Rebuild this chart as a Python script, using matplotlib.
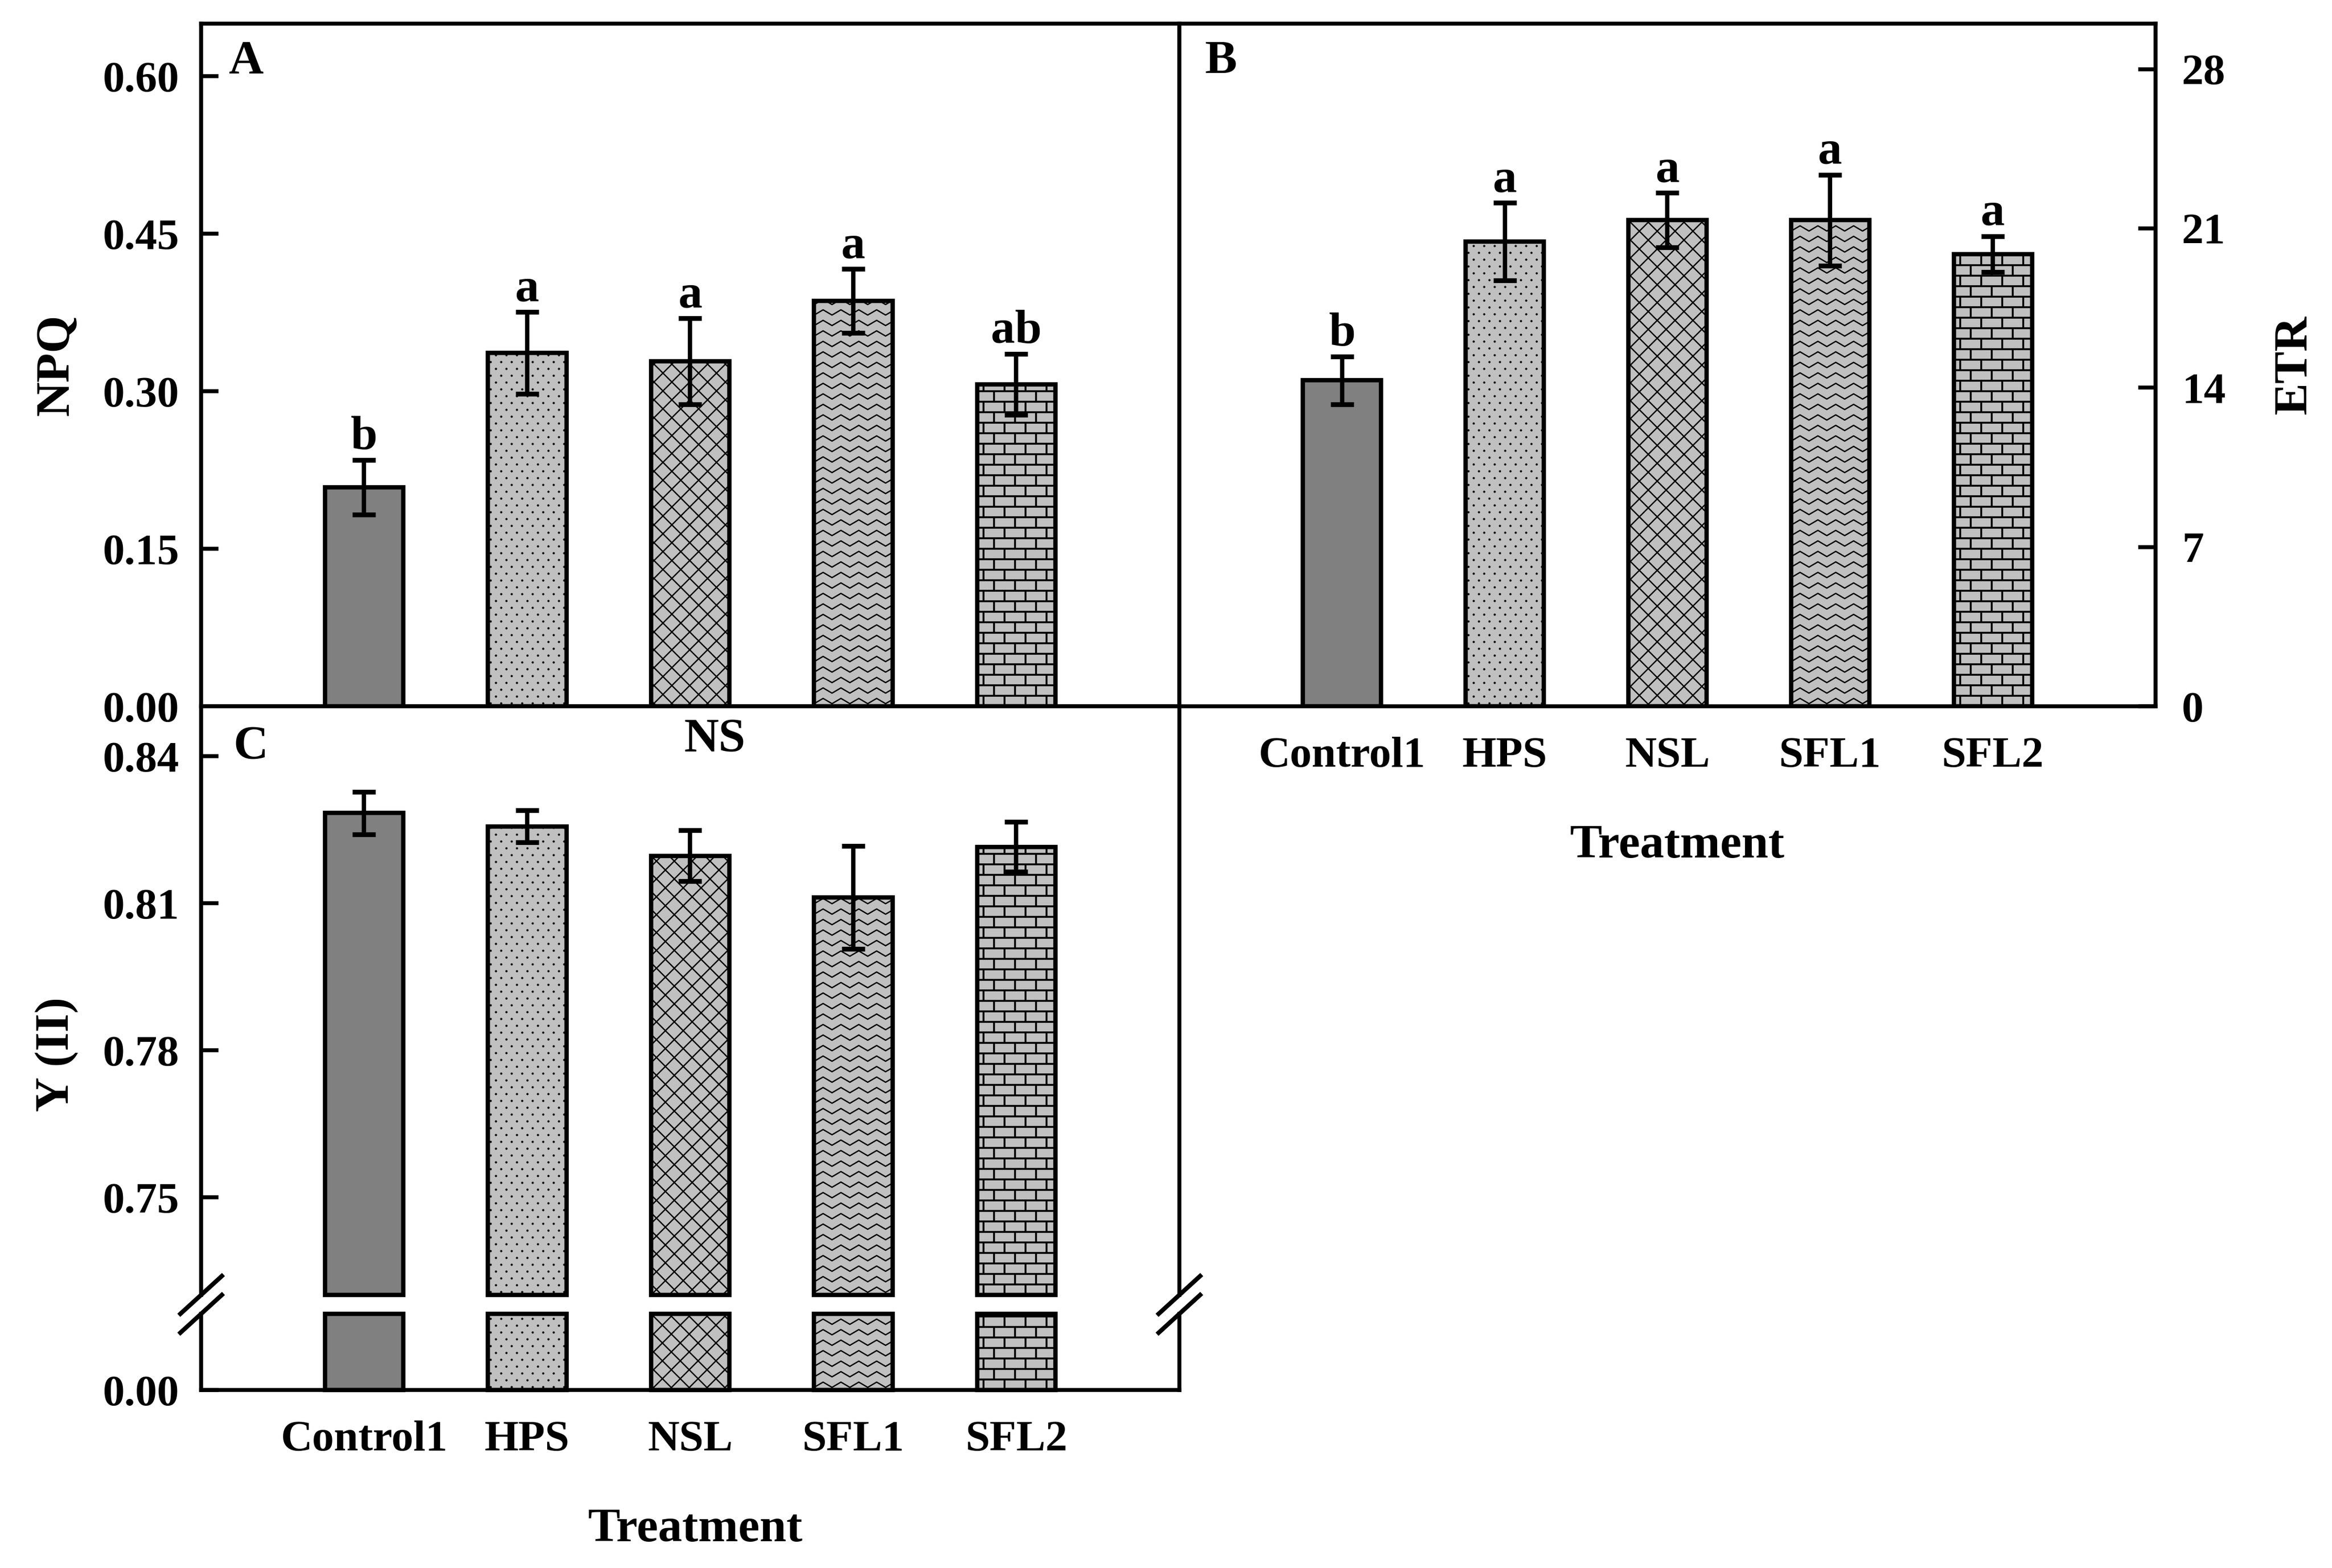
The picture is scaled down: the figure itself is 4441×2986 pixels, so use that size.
import matplotlib.pyplot as plt
import numpy as np
from matplotlib.collections import LineCollection
from matplotlib.lines import Line2D
from matplotlib.ticker import FormatStrFormatter
from matplotlib.transforms import Bbox, IdentityTransform

plt.rcParams['font.family'] = ['Liberation Serif', 'DejaVu Serif']
plt.rcParams['font.weight'] = 'bold'

# Dane
treatments = ['Control1', 'HPS', 'NSL', 'SFL1', 'SFL2']

npq = [0.2085, 0.3365, 0.3285, 0.386, 0.3065]
npq_err = [0.026, 0.039, 0.041, 0.0305, 0.029]
npq_letters = ['b', 'a', 'a', 'a', 'ab']

etr = [14.33, 20.42, 21.36, 21.36, 19.87]
etr_err = [1.05, 1.7, 1.2, 2.0, 0.79]
etr_letters = ['b', 'a', 'a', 'a', 'a']

yii = [0.8284, 0.8257, 0.8197, 0.8112, 0.8215]
yii_err = [0.0043, 0.0033, 0.0052, 0.0105, 0.0051]

fills = ['#808080', '#c0c0c0', '#c0c0c0', '#c0c0c0', '#c0c0c0']
patterns = [None, 'dots', 'cross', 'zigzag', 'brick']

c1_lim = (0.7301, 0.8502)   # gorna czesc panelu C
c2_lim = (0.0, 0.05)        # dolna czesc panelu C

x = np.arange(len(treatments))

fig = plt.figure(figsize=(4441 / 300, 2986 / 300), dpi=300)
axA = fig.add_axes([0.08624, 0.54957, 0.4195, 0.43536])
axB = fig.add_axes([0.50574, 0.54957, 0.4186, 0.43536])
axC = fig.add_axes([0.08624, 0.17415, 0.4195, 0.37542])
axD = fig.add_axes([0.08624, 0.11353, 0.4195, 0.04856])


def style(ax):
    for s in ax.spines.values():
        s.set_linewidth(1.8)
    ax.tick_params(direction='in', length=8, width=1.8, labelsize=20, pad=10)
    ax.set_xlim(-1, 5)


def add_pattern(ax, bar, kind):
    if kind is None:
        return
    bb = Bbox.intersection(bar.get_window_extent(), ax.bbox)
    if bb is None:
        return
    x0, y0, x1, y1 = bb.x0, bb.y0, bb.x1, bb.y1
    segs = []
    lw = 0.6
    if kind == 'dots':
        xs, ys = [], []
        for k, yy in enumerate(np.arange(y0 + 6, y1, 13)):
            for xx in np.arange(x0 + 5 + (k % 2) * 10, x1, 20):
                xs.append(xx)
                ys.append(yy)
        art = Line2D(xs, ys, ls='none', marker='o', ms=1.0, mew=0,
                     color='black', transform=IdentityTransform(), zorder=2.1)
        ax.add_artist(art)
        art.set_clip_path(bar)
        return
    if kind == 'cross':
        s = 34
        h = y1 - y0
        for c in np.arange(x0 - np.ceil(h / s) * s, x1 + s, s):
            segs.append([(c, y0), (c + h, y1)])
            segs.append([(c + h, y0), (c, y1)])
    elif kind == 'zigzag':
        per, amp, gap = 34, 5, 20
        xs = np.arange(x0 - per, x1 + per, per / 2)
        sign = np.where(np.arange(len(xs)) % 2 == 0, -1, 1)
        for yy in np.arange(y0 + gap / 2, y1 + gap, gap):
            segs.append(np.column_stack([xs, yy + amp * sign]))
    elif kind == 'brick':
        lw = 0.85
        row, blen = 20, 40
        ys = np.arange(y0, y1 + row, row)
        for yy in ys:
            segs.append([(x0, yy), (x1, yy)])
        for k in range(len(ys) - 1):
            for xx in np.arange(x0 + 12 + (k % 2) * blen / 2, x1, blen):
                segs.append([(xx, ys[k]), (xx, ys[k + 1])])
    lc = LineCollection(segs, colors='black', linewidths=lw,
                        transform=IdentityTransform(), zorder=2.1)
    ax.add_artist(lc)
    lc.set_clip_path(bar)


def draw_bars(ax, heights, bottom=0.0, clip=True):
    bars = ax.bar(x, heights, width=0.48, bottom=bottom, color=fills,
                  edgecolor='black', linewidth=2.0, zorder=2, clip_on=clip)
    for b, p in zip(bars, patterns):
        add_pattern(ax, b, p)
    return bars


def draw_err(ax, vals, errs, letters=None):
    ax.errorbar(x, vals, yerr=errs, fmt='none', ecolor='black', elinewidth=2.0,
                capsize=5.2, capthick=2.2, zorder=3)
    if letters:
        for xi, v, e, t in zip(x, vals, errs, letters):
            ax.annotate(t, (xi, v + e), xytext=(0, 5), textcoords='offset points',
                        ha='center', va='baseline', fontsize=22, fontweight='bold')


# Panel A - NPQ
style(axA)
axA.set_ylim(0, 0.65)
axA.set_yticks([0, 0.15, 0.30, 0.45, 0.60])
axA.yaxis.set_major_formatter(FormatStrFormatter('%.2f'))
axA.set_xticks([])
draw_bars(axA, npq)
draw_err(axA, npq, npq_err, npq_letters)
axA.text(0.028, 0.927, 'A', transform=axA.transAxes, fontsize=22,
         fontweight='bold', va='baseline')
axA.set_ylabel('NPQ', fontsize=22, fontweight='bold')
axA.yaxis.label.set(va='center', ha='center', rotation_mode='default')
axA.yaxis.set_label_coords(-0.1476, 0.5)

# Panel B - ETR
style(axB)
axB.set_ylim(0, 30)
axB.yaxis.tick_right()
axB.set_yticks([0, 7, 14, 21, 28])
axB.set_xticks(x, treatments)
axB.tick_params(axis='y', pad=12)
axB.tick_params(axis='x', length=0, pad=14)
draw_bars(axB, etr)
draw_err(axB, etr, etr_err, etr_letters)
axB.text(0.026, 0.927, 'B', transform=axB.transAxes, fontsize=22,
         fontweight='bold', va='baseline')
axB.yaxis.set_label_position('right')
axB.set_ylabel('ETR', fontsize=22, fontweight='bold')
axB.yaxis.label.set(va='center', ha='center', rotation=90, rotation_mode='default')
axB.yaxis.set_label_coords(1.1426, 0.5)
axB.set_xlabel('Treatment', fontsize=22, fontweight='bold')
axB.xaxis.label.set_va('center')
axB.xaxis.set_label_coords(0.51, -0.2046)

# Panel C - Y(II), os przerwana
style(axC)
axC.set_ylim(*c1_lim)
axC.set_yticks([0.75, 0.78, 0.81, 0.84])
axC.yaxis.set_major_formatter(FormatStrFormatter('%.2f'))
axC.set_xticks([])
axC.spines['bottom'].set_visible(False)
draw_bars(axC, np.array(yii) - c1_lim[0], bottom=c1_lim[0], clip=False)
draw_err(axC, yii, yii_err)
axC.text(0.033, 0.911, 'C', transform=axC.transAxes, fontsize=22,
         fontweight='bold', va='baseline')
axC.text(2.15, 0.924, 'NS', transform=axC.get_xaxis_transform(), fontsize=22,
         fontweight='bold', ha='center', va='baseline')
axC.set_ylabel('Y (II)', fontsize=22, fontweight='bold')
axC.yaxis.label.set(va='center', ha='center', rotation_mode='default')
axC.yaxis.set_label_coords(-0.1476, 0.409)

style(axD)
axD.set_ylim(*c2_lim)
axD.set_yticks([0])
axD.yaxis.set_major_formatter(FormatStrFormatter('%.2f'))
axD.set_xticks(x, treatments)
axD.tick_params(axis='x', length=0, pad=14)
axD.spines['top'].set_visible(False)
draw_bars(axD, np.minimum(yii, c2_lim[1]), clip=False)
axD.set_xlabel('Treatment', fontsize=22, fontweight='bold')
axD.xaxis.label.set_va('center')
axD.xaxis.set_label_coords(0.505, -1.834)

# Znaczniki przerwania osi
for xa in (0, 1):
    for ax, ya in ((axC, 0), (axD, 1)):
        px, py = ax.transAxes.transform((xa, ya))
        fig.add_artist(Line2D([px - 39.5, px + 39.5], [py - 36, py + 36],
                              color='black', lw=2.0,
                              transform=IdentityTransform()))

plt.savefig('out.png', dpi=300)
